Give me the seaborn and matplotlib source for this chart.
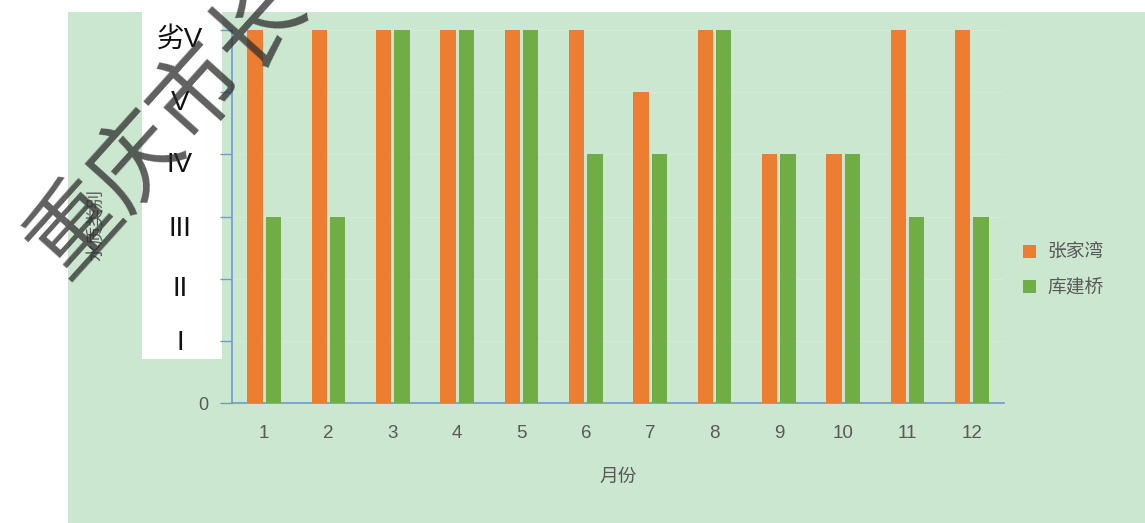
import matplotlib
matplotlib.use("Agg")
import matplotlib.pyplot as plt
import matplotlib.patches as mpatches
import matplotlib.transforms as mtransforms
import seaborn as sns
import pandas as pd

# ---- data ----
months = ['1', '2', '3', '4', '5', '6', '7', '8', '9', '10', '11', '12']
zhangjiawan = [6, 6, 6, 6, 6, 6, 5, 6, 4, 4, 6, 6]
kujianqiao = [3, 3, 6, 6, 6, 4, 4, 6, 4, 4, 3, 3]
series_names = ['张家湾', '库建桥']
grade_labels = ['0', 'I', 'II', 'III', 'IV', 'V', '劣V']
watermark = '重庆市长'

BG = '#CCE7D0'
ORANGE = '#ED7D31'
GREEN = '#70AD47'
AXBLUE = '#6C9BD2'
GRAY = '#595959'

sns.set_style('white')
plt.rcParams['font.family'] = ['Noto Sans CJK SC', 'DejaVu Sans']

df = pd.DataFrame({
    '月份': months * 2,
    '类别': zhangjiawan + kujianqiao,
    '站点': [series_names[0]] * len(months) + [series_names[1]] * len(months),
})

W, H = 1145, 523
fig = plt.figure(figsize=(W / 100, H / 100), dpi=100, facecolor='white')

# green background panel
fig.patches.append(mpatches.Rectangle((68 / W, 0), 1 - 68 / W, (H - 12) / H,
                                      transform=fig.transFigure, facecolor=BG,
                                      edgecolor='none', zorder=-2))
# white overlay box behind grade labels
fig.patches.append(mpatches.Rectangle((142 / W, (H - 359) / H), 80 / W, (359 - 12) / H,
                                      transform=fig.transFigure, facecolor='white',
                                      edgecolor='none', zorder=-1))

ax = fig.add_axes([232 / W, (H - 403) / H, (1004 - 232) / W, (403 - 30) / H])
ax.set_zorder(2)
ax.set_facecolor(BG)

sns.barplot(data=df, x='月份', y='类别', hue='站点', order=months,
            hue_order=series_names, palette=[ORANGE, GREEN],
            width=0.57, gap=0.15, ax=ax, saturation=1, legend=True,
            linewidth=0, edgecolor='none', zorder=3)

ax.set_ylim(0, 6)
ax.set_xlim(-0.5, len(months) - 0.5)
ax.set_yticks(range(len(grade_labels)))
ax.set_yticklabels(['0'] + [''] * (len(grade_labels) - 1))
ax.tick_params(axis='y', left=True, length=9, width=1, color=AXBLUE, labelsize=13,
               labelcolor=GRAY, pad=8)
ax.tick_params(axis='x', bottom=False, length=0, labelsize=13.5, labelcolor=GRAY, pad=16)
for lab in ax.get_xticklabels() + ax.get_yticklabels():
    lab.set_family(['Liberation Sans', 'DejaVu Sans'])

ax.yaxis.grid(True, color='#D3EAD6', linewidth=0.8, zorder=0)
ax.set_axisbelow(True)

for s in ['top', 'right']:
    ax.spines[s].set_visible(False)
for s in ['left', 'bottom']:
    ax.spines[s].set_color(AXBLUE)
    ax.spines[s].set_linewidth(1.2)

# grade labels (roman numerals) in the white box, nudged as in the source image
label_shift_px = [-2, -10, -12, -11, -11, -10]
trans = mtransforms.blended_transform_factory(fig.transFigure, ax.transData)
for i, (g, dy) in enumerate(zip(grade_labels[1:], label_shift_px), start=1):
    tr = trans + mtransforms.ScaledTranslation(0, dy / 100, fig.dpi_scale_trans)
    fig.text(180 / W, i, g, transform=tr, ha='center', va='center',
             fontsize=20, color='#111111', zorder=5,
             family=['Liberation Sans Narrow', 'Liberation Sans', 'Noto Sans CJK SC'])

ax.set_xlabel('月份', fontsize=13.5, color=GRAY, labelpad=17)
ax.set_ylabel('')
fig.text(97 / W, (H - 225) / H, '水质类别', rotation=90, ha='center', va='center',
         fontsize=13, color=GRAY)

leg = ax.legend(loc='center left', bbox_to_anchor=(1006 / W, (H - 270) / H),
                bbox_transform=fig.transFigure, frameon=False, fontsize=13.5,
                handlelength=0.7, handleheight=0.7, handletextpad=0.6,
                labelspacing=0.75)
for t in leg.get_texts():
    t.set_color(GRAY)

# watermark
fig.text(168 / W, (H - 127) / H, watermark, rotation=48, rotation_mode='anchor',
         ha='center', va='center', fontsize=66, color='#2b2b2b', alpha=0.75,
         zorder=20)

fig.savefig('out.png', dpi=100, facecolor='white')
